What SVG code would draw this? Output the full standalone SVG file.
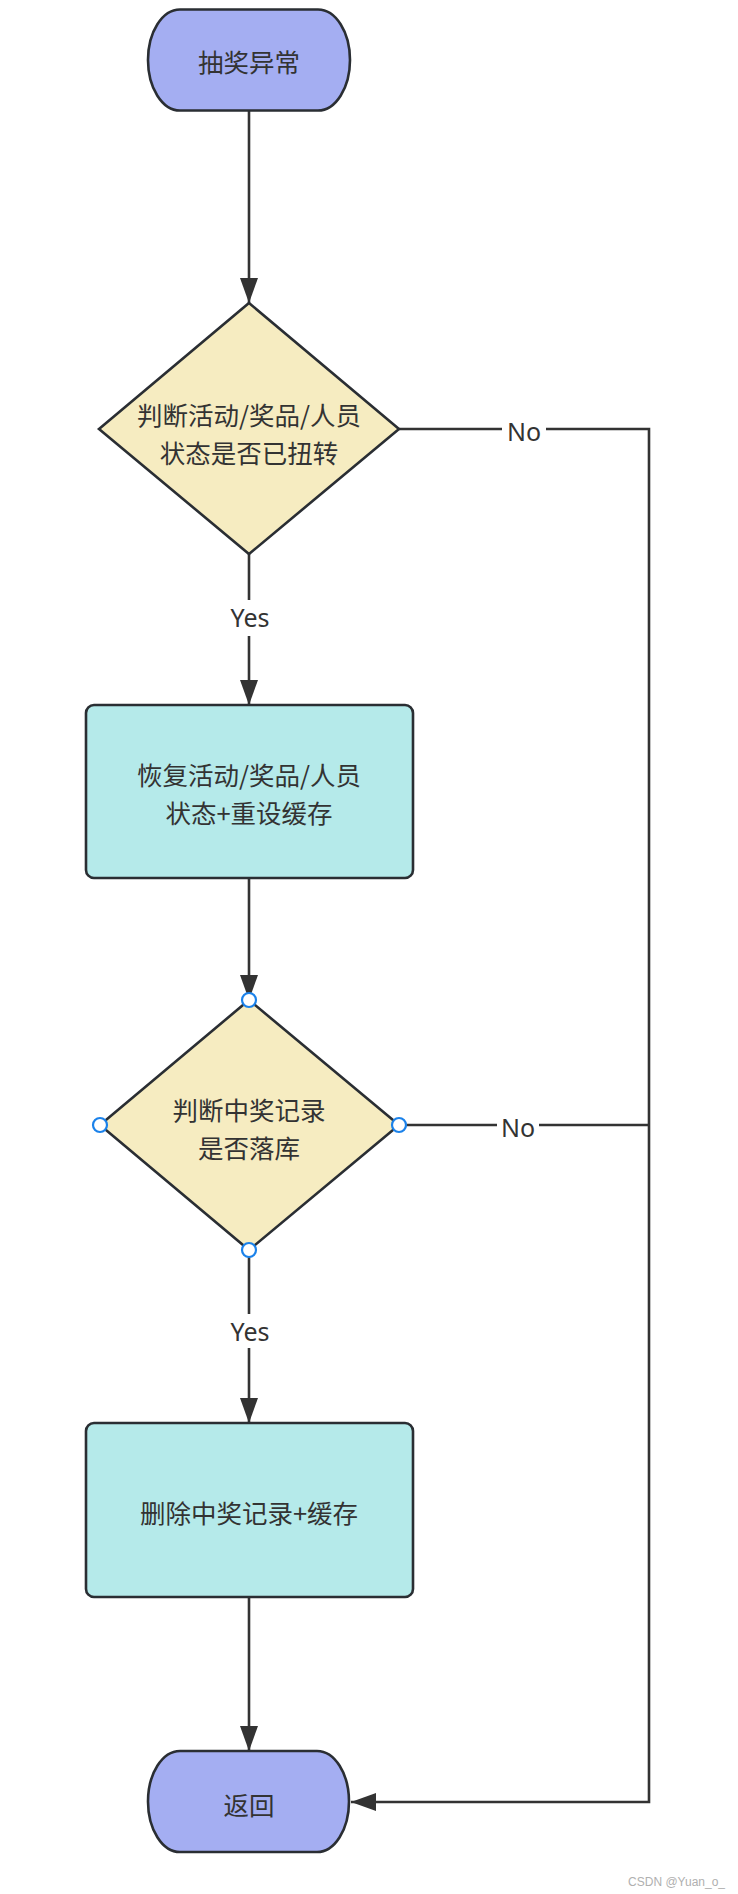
<svg xmlns="http://www.w3.org/2000/svg" width="738" height="1894" viewBox="0 0 738 1894">
  <style>
    .term { fill: #a4aef2; stroke: #2a2e33; stroke-width: 2.6; }
    .dec { fill: #f6ecc1; stroke: #2a2e33; stroke-width: 2.6; stroke-linejoin: miter; }
    .proc { fill: #b5eaea; stroke: #2a2e33; stroke-width: 2.6; }
    .t { font-family: "Noto Sans CJK SC", "Noto Sans", sans-serif; font-size: 25.5px; fill: #333333; text-anchor: middle; dominant-baseline: central; }
    .lbl { font-family: "Noto Sans", "Open Sans", sans-serif; font-size: 25px; fill: #333333; text-anchor: middle; dominant-baseline: central; }
    .edge { fill: none; stroke: #333333; stroke-width: 2.6; }
    .lblbg { fill: #ffffff; }
    .port { fill: #ffffff; stroke: #1b82ea; stroke-width: 2.2; }
    .wm { font-family: "Liberation Sans", "DejaVu Sans", sans-serif; font-size: 12px; fill: #b0b0b0; text-anchor: end; dominant-baseline: central; }
  </style>
  <defs>
    <marker id="arrow" markerUnits="userSpaceOnUse" markerWidth="26" markerHeight="18" refX="25" refY="9" orient="auto">
      <path d="M0,0 L25,9 L0,18 z" fill="#333333"/>
    </marker>
  </defs>

  <g id="connectors">
    <line class="edge" x1="249" y1="110" x2="249" y2="303" marker-end="url(#arrow)"/>
    <line class="edge" x1="249" y1="554" x2="249" y2="705" marker-end="url(#arrow)"/>
    <polyline class="edge" points="399,429 649,429 649,1802 351,1802" marker-end="url(#arrow)"/>
    <line class="edge" x1="249" y1="878" x2="249" y2="1000" marker-end="url(#arrow)"/>
    <line class="edge" x1="249" y1="1250" x2="249" y2="1423" marker-end="url(#arrow)"/>
    <line class="edge" x1="399" y1="1125" x2="649" y2="1125"/>
    <line class="edge" x1="249" y1="1597" x2="249" y2="1751" marker-end="url(#arrow)"/>
    <rect class="lblbg" x="502" y="414" width="44" height="32"/>
    <text class="lbl" x="524" y="431">No</text>
    <rect class="lblbg" x="229" y="600" width="42" height="36"/>
    <text class="lbl" x="250" y="617">Yes</text>
    <rect class="lblbg" x="497" y="1110" width="42" height="32"/>
    <text class="lbl" x="518" y="1127">No</text>
    <rect class="lblbg" x="229" y="1314" width="42" height="34"/>
    <text class="lbl" x="250" y="1331">Yes</text>
  </g>

  <g id="start">
    <rect class="term" x="148" y="9.5" width="202" height="101" rx="32" ry="50.5"/>
    <text class="t" x="249" y="60">抽奖异常</text>
  </g>

  <g id="decision1">
    <polygon class="dec" points="249,303 399,429 249,554 99,429"/>
    <text class="t" x="249" y="413.5">判断活动/奖品/人员<tspan x="249" dy="37">状态是否已扭转</tspan></text>
  </g>

  <g id="process1">
    <rect class="proc" x="86" y="705" width="327" height="173" rx="8" ry="8"/>
    <text class="t" x="249" y="773.5">恢复活动/奖品/人员<tspan x="249" dy="37">状态+重设缓存</tspan></text>
  </g>

  <g id="decision2">
    <polygon class="dec" points="249,1000 399,1125 249,1250 100,1125"/>
    <text class="t" x="249" y="1108.5">判断中奖记录<tspan x="249" dy="37">是否落库</tspan></text>
    <circle class="port" cx="249" cy="1000" r="7"/>
    <circle class="port" cx="100" cy="1125" r="7"/>
    <circle class="port" cx="399" cy="1125" r="7"/>
    <circle class="port" cx="249" cy="1250" r="7"/>
  </g>

  <g id="process2">
    <rect class="proc" x="86" y="1423" width="327" height="174" rx="8" ry="8"/>
    <text class="t" x="249" y="1511">删除中奖记录+缓存</text>
  </g>

  <g id="end">
    <rect class="term" x="148" y="1751" width="201" height="101" rx="32" ry="50.5"/>
    <text class="t" x="249" y="1803">返回</text>
  </g>

  <text class="wm" x="725" y="1882">CSDN @Yuan_o_</text>
</svg>
